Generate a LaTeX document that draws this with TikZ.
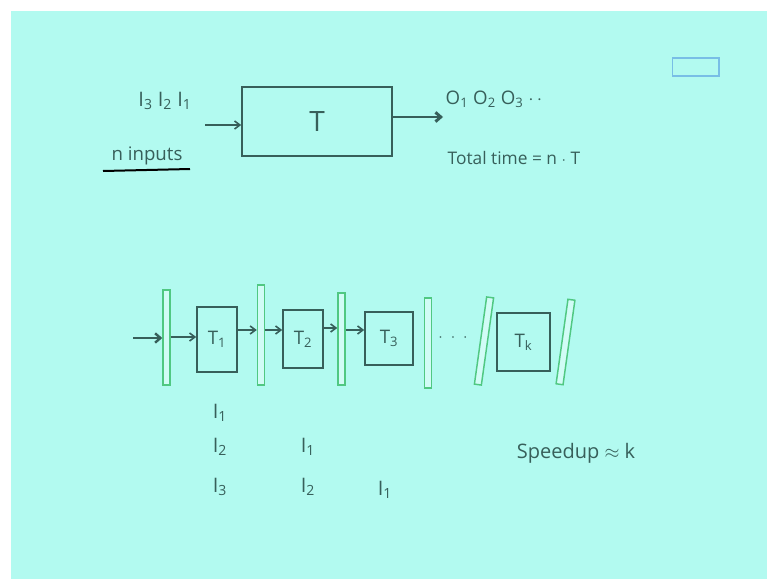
\documentclass[tikz,border=0pt]{standalone}
\usepackage{fontspec}
\setmainfont{Open Sans}
\usetikzlibrary{arrows.meta}
\definecolor{bgcyan}{RGB}{178,250,240}
\definecolor{ink}{RGB}{55,95,90}
\definecolor{latchgreen}{RGB}{80,200,130}
\definecolor{logoblue}{RGB}{120,190,230}
\newcommand{\ssub}[1]{\textsubscript{#1}}
\tikzset{
  ink/.style={text=ink, font=\fontsize{13}{15}\selectfont},
  bigink/.style={text=ink, font=\fontsize{15}{17}\selectfont},
  stagebox/.style={draw=ink, line width=1.2pt, inner sep=0pt, text=ink, font=\fontsize{14}{16}\selectfont},
  latch/.style={draw=latchgreen, line width=1.1pt, fill=bgcyan!60!white, minimum width=5.25pt, inner sep=0pt},
  arr/.style={draw=ink, line width=1.2pt, -{Straight Barb[length=4pt,width=6pt]}},
  thickarr/.style={draw=ink, line width=2.2pt, -{Straight Barb[length=4pt,width=7pt]}}
}
\begin{document}
\begin{tikzpicture}[x=0.75pt,y=-0.75pt]
\useasboundingbox (0,0) rectangle (767,579);
\fill[white] (0,0) rectangle (767,579);
\fill[bgcyan] (11,11) rectangle (767,579);
% logo box
\node[draw=logoblue, line width=1pt, minimum width=35pt, minimum height=13.5pt, inner sep=0pt] (logo) at (695.5,67) {};
% top part
\node[stagebox, minimum width=112.5pt, minimum height=51.75pt, font=\fontsize{21}{24}\selectfont] (T) at (317,121.5) {T};
\coordinate (inp) at (205,125);
\draw[arr] (inp) -- (inp -| T.west);
\node[bigink] (inlab) at (165,101) {I\ssub{3} I\ssub{2} I\ssub{1}};
\node[ink, font=\fontsize{14}{16}\selectfont] (ninp) at (147,156) {n inputs};
\coordinate (ul1) at (103,171);
\coordinate (ul2) at (190,169);
\draw[ink, line width=1.5pt] (ul1) -- (ul2);
\coordinate (outend) at (443,117);
\draw[thickarr] (T.east |- outend) -- (outend);
\node[ink, anchor=west, font=\fontsize{14}{16}\selectfont] (outlab) at (441,99) {O\ssub{1} O\ssub{2} O\ssub{3} $\cdot\,\cdot$};
\node[ink, anchor=west] (total) at (443,158) {Total time = n $\cdot$ T};
% pipeline latches
\node[latch, minimum height=71.25pt] (L0) at (166.5,337.5) {};
\node[latch, minimum height=75pt] (L1) at (261,335) {};
\node[latch, minimum height=69pt] (L2) at (341.5,339) {};
\node[latch, minimum height=67.5pt] (L3) at (428,343) {};
\node[latch, minimum height=66pt, rotate=-8] (L4) at (484,341) {};
\node[latch, minimum height=64pt, rotate=-8] (L5) at (565.5,342) {};
% stages
\node[stagebox, minimum width=30pt, minimum height=48.75pt] (T1) at (217,339.5) {T\ssub{1}};
\node[stagebox, minimum width=30pt, minimum height=43.5pt] (T2) at (303,339) {T\ssub{2}};
\node[stagebox, minimum width=36pt, minimum height=39.75pt] (T3) at (389,338.5) {T\ssub{3}};
\node[stagebox, minimum width=39.75pt, minimum height=43.5pt] (Tk) at (523.5,342) {T\ssub{k}};
% arrows
\coordinate (pin) at (133,338);
\draw[thickarr, line width=1.8pt] (pin) -- (pin -| L0.west);
\draw[arr] (L0.east |- 0,337) -- (T1.west |- 0,337);
\draw[arr] (T1.east |- 0,330) -- (L1.west |- 0,330);
\draw[arr] (L1.east |- 0,330) -- (T2.west |- 0,330);
\draw[arr] (T2.east |- 0,328) -- (L2.west |- 0,328);
\draw[arr] (L2.east |- 0,330) -- (T3.west |- 0,330);
\node[ink] (dots) at (453,338) {$\cdot\;\cdot\;\cdot$};
% timing table
\node[bigink] (a1) at (220,413) {I\ssub{1}};
\node[bigink] (a2) at (220,447) {I\ssub{2}};
\node[bigink] (a3) at (220,487) {I\ssub{3}};
\node[bigink] (b1) at (308,447) {I\ssub{1}};
\node[bigink] (b2) at (308,487) {I\ssub{2}};
\node[bigink] (c1) at (385,490) {I\ssub{1}};
\node[ink, font=\fontsize{15}{17}\selectfont] (speed) at (576,453) {Speedup $\approx$ k};
\end{tikzpicture}
\end{document}
